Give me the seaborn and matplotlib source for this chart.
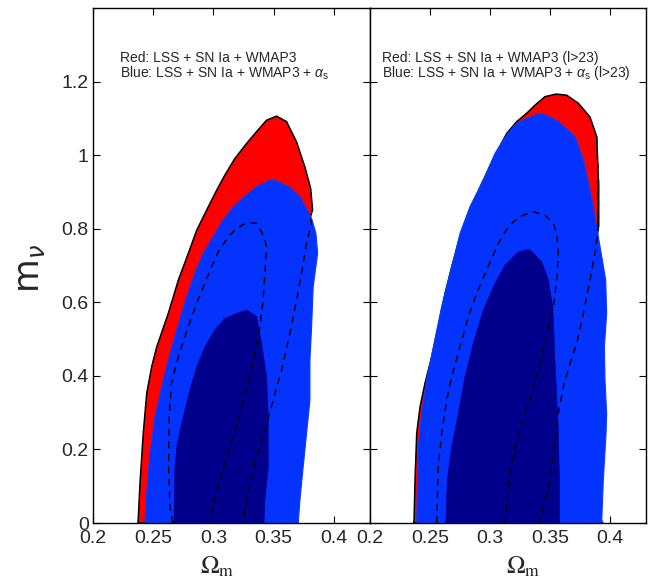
import matplotlib
matplotlib.use("Agg")
import matplotlib.pyplot as plt
import seaborn as sns

# ---- left panel: LSS + SN Ia + WMAP3 (red) and + alpha_s (blue) ----
left_red_x = [0.2373, 0.2375, 0.2390, 0.2417, 0.2446, 0.2487, 0.2529, 0.2625, 0.2708,
              0.2791, 0.2861, 0.2944, 0.3027, 0.3095, 0.3178, 0.3276, 0.3358, 0.3441,
              0.3524, 0.3607, 0.3690, 0.3759, 0.3807, 0.3823, 0.3801]
left_red_y = [0.0, 0.008, 0.108, 0.244, 0.353, 0.425, 0.479, 0.570, 0.660,
              0.733, 0.796, 0.851, 0.905, 0.946, 0.991, 1.032, 1.064, 1.095,
              1.106, 1.091, 1.036, 0.968, 0.910, 0.851, 0.828]
# hidden (dashed) part of the red 2-sigma contour below the blue region
left_red_dash_x = [0.3801, 0.3815, 0.3773, 0.3732, 0.3690, 0.3635, 0.3566, 0.3496,
                   0.3427, 0.3359, 0.3303, 0.3247, 0.3234]
left_red_dash_y = [0.828, 0.815, 0.760, 0.679, 0.606, 0.516, 0.416, 0.334,
                   0.253, 0.180, 0.108, 0.008, 0.0]
left_red_inner_x = [0.2661, 0.2639, 0.2627, 0.2632, 0.2652, 0.2708, 0.2791, 0.2861,
                    0.2929, 0.2985, 0.3040, 0.3123, 0.3193, 0.3276, 0.3358, 0.3413,
                    0.3441, 0.3427, 0.3413, 0.3386, 0.3344, 0.3289, 0.3220, 0.3137,
                    0.3068, 0.3012, 0.2971, 0.2979]
left_red_inner_y = [0.0, 0.044, 0.153, 0.289, 0.380, 0.452, 0.534, 0.597,
                    0.652, 0.697, 0.737, 0.778, 0.801, 0.816, 0.815, 0.783,
                    0.751, 0.679, 0.606, 0.534, 0.461, 0.380, 0.298, 0.207,
                    0.135, 0.063, 0.008, 0.0]
left_blue_x = [0.2440, 0.2432, 0.2446, 0.2473, 0.2515, 0.2570, 0.2625, 0.2695, 0.2778,
               0.2846, 0.2915, 0.2998, 0.3081, 0.3178, 0.3276, 0.3358, 0.3469, 0.3524,
               0.3635, 0.3718, 0.3815, 0.3851, 0.3865, 0.3828, 0.3815, 0.3801, 0.3801,
               0.3773, 0.3745, 0.3718, 0.3704]
left_blue_y = [0.0, 0.008, 0.081, 0.189, 0.289, 0.370, 0.443, 0.525, 0.615,
               0.679, 0.733, 0.778, 0.824, 0.864, 0.892, 0.914, 0.932, 0.930,
               0.912, 0.887, 0.828, 0.787, 0.733, 0.642, 0.534, 0.443, 0.334,
               0.244, 0.153, 0.063, 0.0]
left_dark_x = [0.2666, 0.2672, 0.2680, 0.2700, 0.2749, 0.2805, 0.2861, 0.2929, 0.3012,
               0.3095, 0.3193, 0.3276, 0.3358, 0.3400, 0.3441, 0.3455, 0.3455, 0.3427,
               0.3419]
left_dark_y = [0.0, 0.008, 0.153, 0.217, 0.289, 0.362, 0.425, 0.479, 0.525,
               0.556, 0.570, 0.579, 0.561, 0.488, 0.398, 0.289, 0.153, 0.063,
               0.0]

# ---- right panel: same data with l > 23 ----
right_red_x = [0.2363, 0.2367, 0.2375, 0.2389, 0.2417, 0.2458, 0.2514, 0.2569, 0.2625,
               0.2681, 0.2750, 0.2833, 0.2931, 0.3042, 0.3139, 0.3222, 0.3306, 0.3375,
               0.3458, 0.3550, 0.3639, 0.3736, 0.3833, 0.3889, 0.3903, 0.3903]
right_red_y = [0.0, 0.008, 0.117, 0.244, 0.316, 0.380, 0.452, 0.534, 0.624,
               0.697, 0.778, 0.851, 0.923, 1.000, 1.059, 1.091, 1.114, 1.136,
               1.159, 1.166, 1.163, 1.141, 1.104, 1.050, 0.932, 0.805]
right_red_dash_x = [0.3889, 0.3903, 0.3903, 0.3875, 0.3833, 0.3778, 0.3722, 0.3667,
                    0.3611, 0.3569, 0.3542, 0.3500, 0.3417, 0.3408]
right_red_dash_y = [1.050, 0.932, 0.805, 0.733, 0.661, 0.570, 0.488, 0.434,
                    0.370, 0.298, 0.226, 0.117, 0.008, 0.0]
right_red_inner_x = [0.2556, 0.2556, 0.2569, 0.2597, 0.2639, 0.2681, 0.2750, 0.2819,
                     0.2889, 0.2972, 0.3056, 0.3125, 0.3194, 0.3278, 0.3361, 0.3458,
                     0.3528, 0.3556, 0.3569, 0.3556, 0.3528, 0.3472, 0.3417, 0.3347,
                     0.3264, 0.3194, 0.3153, 0.3125, 0.3125]
right_red_inner_y = [0.0, 0.008, 0.153, 0.244, 0.334, 0.398, 0.479, 0.561,
                     0.624, 0.688, 0.751, 0.792, 0.819, 0.837, 0.846, 0.837,
                     0.815, 0.787, 0.733, 0.661, 0.588, 0.516, 0.434, 0.352,
                     0.271, 0.189, 0.099, 0.008, 0.0]
right_blue_x = [0.2394, 0.2389, 0.2403, 0.2431, 0.2472, 0.2528, 0.2597, 0.2681, 0.2750,
                0.2833, 0.2944, 0.3042, 0.3139, 0.3222, 0.3306, 0.3417, 0.3556, 0.3708,
                0.3778, 0.3833, 0.3889, 0.3931, 0.3964, 0.3972, 0.3953, 0.3958, 0.3972,
                0.3967, 0.3944, 0.3931, 0.3944]
right_blue_y = [0.0, 0.008, 0.207, 0.298, 0.389, 0.479, 0.588, 0.697, 0.787,
                0.860, 0.932, 1.005, 1.055, 1.086, 1.100, 1.114, 1.095, 1.050,
                0.987, 0.905, 0.805, 0.724, 0.661, 0.570, 0.479, 0.389, 0.298,
                0.244, 0.117, 0.008, 0.0]
right_dark_x = [0.2625, 0.2633, 0.2644, 0.2681, 0.2736, 0.2792, 0.2861, 0.2944, 0.3028,
                0.3125, 0.3236, 0.3328, 0.3431, 0.3486, 0.3522, 0.3533, 0.3542, 0.3556,
                0.3569, 0.3578, 0.3578, 0.3583]
right_dark_y = [0.0, 0.008, 0.117, 0.207, 0.298, 0.398, 0.488, 0.579, 0.642,
                0.701, 0.737, 0.744, 0.710, 0.661, 0.588, 0.516, 0.434, 0.343,
                0.253, 0.117, 0.008, 0.0]

x_ticks = [0.2, 0.25, 0.3, 0.35, 0.4]
x_tick_labels = ["0.2", "0.25", "0.3", "0.35", "0.4"]
y_ticks = [0, 0.2, 0.4, 0.6, 0.8, 1.0, 1.2]
y_tick_labels = ["0", "0.2", "0.4", "0.6", "0.8", "1", "1.2"]

left_notes = ["Red: LSS + SN Ia + WMAP3",
              r"Blue: LSS + SN Ia + WMAP3 + $\alpha_{\rm s}$"]
right_notes = ["Red: LSS + SN Ia + WMAP3 (l>23)",
               r"Blue: LSS + SN Ia + WMAP3 + $\alpha_{\rm s}$ (l>23)"]

RED = "#ff0000"
BLUE = "#0433ff"
DARK = "#00008c"

sns.set_style("ticks", {"xtick.direction": "in", "ytick.direction": "in"})
plt.rcParams["font.family"] = ["Liberation Sans", "DejaVu Sans"]
plt.rcParams["mathtext.fontset"] = "custom"
plt.rcParams["mathtext.rm"] = "Liberation Sans"
plt.rcParams["mathtext.it"] = "Liberation Sans:italic"


def draw_panel(ax, red, red_dash, inner, blue, dark, notes, note_x):
    # red 2-sigma region: visible edge plus the part hidden under blue
    rx = red[0] + red_dash[0][1:]
    ry = red[1] + red_dash[1][1:]
    ax.fill(rx, ry, facecolor=RED, edgecolor="black", lw=1.1, zorder=1)
    ax.fill(blue[0], blue[1], facecolor=BLUE, edgecolor="#0a3cff", lw=0.8, zorder=2)
    ax.fill(dark[0], dark[1], facecolor=DARK, edgecolor=DARK, lw=0.5, zorder=3)
    for xs, ys in (inner, red_dash):
        sns.lineplot(x=xs, y=ys, sort=False, estimator=None, ax=ax, color="black",
                     lw=1.0, linestyle=(0, (5, 4)), zorder=4)

    ax.set_xlim(0.2, 0.43)
    ax.set_ylim(0, 1.4)
    ax.set_xticks(x_ticks)
    ax.set_xticklabels(x_tick_labels)
    ax.set_yticks(y_ticks)
    ax.tick_params(direction="in", top=True, right=True, length=5, width=0.8,
                   labelsize=14, color="black")
    ax.tick_params(axis="x", pad=5)
    ax.tick_params(axis="y", pad=3)
    for s in ax.spines.values():
        s.set_linewidth(1.0)
        s.set_color("black")
    ax.text(note_x, 1.252, notes[0], fontsize=10, va="baseline")
    ax.text(note_x, 1.212, notes[1], fontsize=10, va="baseline")


fig = plt.figure(figsize=(6.57, 5.88), dpi=100)
ax1 = fig.add_axes([0.1416, 0.1105, 0.4216, 0.8759])
ax2 = fig.add_axes([0.5632, 0.1105, 0.4201, 0.8759])

draw_panel(ax1, (left_red_x, left_red_y), (left_red_dash_x, left_red_dash_y),
           (left_red_inner_x, left_red_inner_y), (left_blue_x, left_blue_y),
           (left_dark_x, left_dark_y), left_notes, 0.222)
draw_panel(ax2, (right_red_x, right_red_y), (right_red_dash_x, right_red_dash_y),
           (right_red_inner_x, right_red_inner_y), (right_blue_x, right_blue_y),
           (right_dark_x, right_dark_y), right_notes, 0.21)

ax1.set_yticklabels(y_tick_labels)
ax2.set_yticklabels([])

ax1.set_ylabel(r"$\mathsf{m}_{\nu}$", fontsize=25, math_fontfamily="dejavusans")
ax1.yaxis.set_label_coords(-0.165, 0.495)
for ax, cx in ((ax1, 0.45), (ax2, 0.555)):
    ax.set_xlabel(r"$\Omega_{\rm m}$", fontsize=18, math_fontfamily="stix")
    ax.xaxis.set_label_coords(cx, -0.062)

fig.savefig("out.png", dpi=100, facecolor="white")
